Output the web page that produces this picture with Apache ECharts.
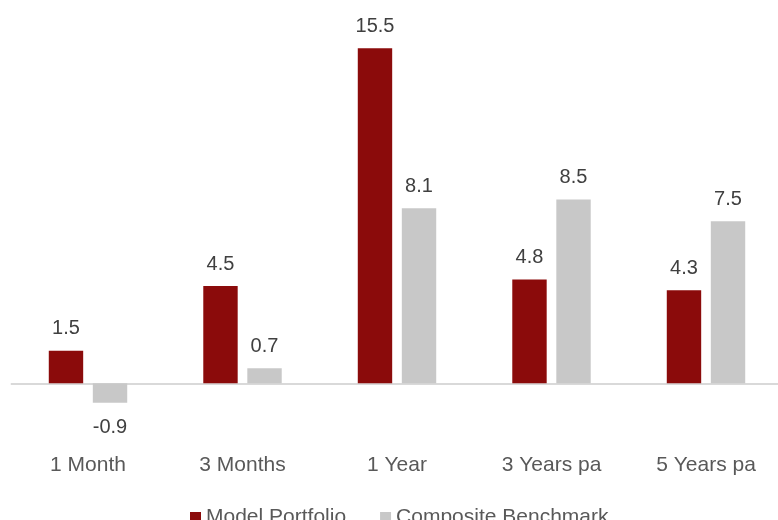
<!DOCTYPE html>
<html>
<head>
<meta charset="utf-8">
<script src="https://cdn.jsdelivr.net/npm/echarts@6/dist/echarts.min.js"></script>
<style>html,body{margin:0;padding:0;background:#fff;overflow:hidden;width:778px;height:520px;}#c{width:784px;height:520px;}</style>
</head>
<body>
<div id="c"></div>
<script>
var categories = ['1 Month', '3 Months', '1 Year', '3 Years pa', '5 Years pa'];
var modelPortfolio = [1.5, 4.5, 15.5, 4.8, 4.3];
var compositeBenchmark = [-0.9, 0.7, 8.1, 8.5, 7.5];
var seriesNames = ['Model Portfolio', 'Composite Benchmark'];

var FONT = 'Liberation Sans, Arial, sans-serif';
function toData(arr) {
  return arr.map(function (v) {
    return { value: v, label: { distance: v < 0 ? 15 : 12 } };
  });
}
var chart = echarts.init(document.getElementById('c'), null, { renderer: 'canvas' });
chart.setOption({
  animation: false,
  backgroundColor: '#ffffff',
  grid: { left: 10.75, top: 15.9, width: 772.5, bottom: 71.9, containLabel: false },
  legend: {
    data: seriesNames,
    left: 185, top: 502,
    itemWidth: 11, itemHeight: 11, itemGap: 34,
    icon: 'rect',
    textStyle: { color: '#595959', fontSize: 21, fontFamily: FONT }
  },
  xAxis: {
    type: 'category',
    data: categories,
    axisLine: { show: false },
    axisTick: { show: false },
    axisLabel: { color: '#595959', fontSize: 21, fontFamily: FONT, margin: 7 }
  },
  yAxis: {
    type: 'value', min: -3, max: 17,
    show: false,
    splitLine: { show: false }
  },
  series: [
    {
      name: seriesNames[0], type: 'bar', data: toData(modelPortfolio),
      barWidth: 34.4, barGap: '28%',
      itemStyle: { color: '#8B0B0B' },
      label: { show: true, position: 'outside', color: '#404040', fontSize: 20, fontFamily: FONT },
      markLine: {
        silent: true, symbol: 'none', z: 1,
        label: { show: false },
        lineStyle: { color: '#D9D9D9', width: 2, type: 'solid' },
        data: [{ yAxis: 0 }]
      }
    },
    {
      name: seriesNames[1], type: 'bar', data: toData(compositeBenchmark),
      barWidth: 34.4, barGap: '28%',
      itemStyle: { color: '#C8C8C8' },
      label: { show: true, position: 'outside', color: '#404040', fontSize: 20, fontFamily: FONT }
    }
  ]
});
</script>
</body>
</html>
